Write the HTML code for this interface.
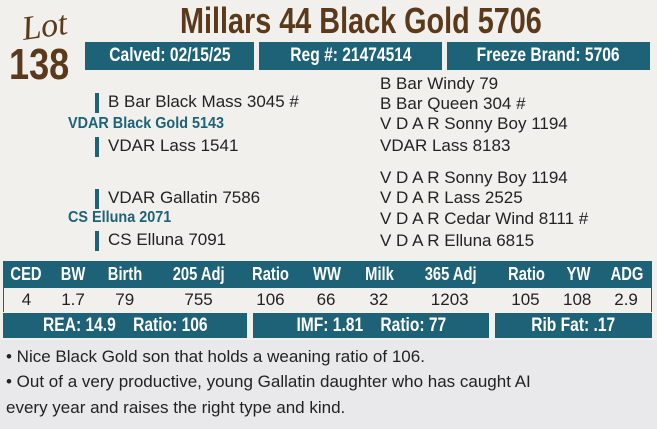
<!DOCTYPE html>
<html><head><style>
body{margin:0;width:657px;height:429px;background:#f1f0ec;position:relative;overflow:hidden;font-family:"Liberation Sans",sans-serif;}
.a{position:absolute;white-space:nowrap;}
.bar{position:absolute;background:#1e6278;color:#fff;font-weight:bold;font-size:19px;display:flex;align-items:center;justify-content:center;}
.c{display:inline-block;transform:scaleX(0.82);}
.t{font-size:17px;color:#222;line-height:20px;}
.vb{position:absolute;width:4px;background:#1e6278;height:20px;}
.b{font-weight:bold;color:#1e6278;font-size:16px;}
.row{position:absolute;left:3px;width:649px;display:flex;}
.row div{text-align:center;}
</style></head><body>
<div class="a" style="left:22px;top:8px;font-family:'Liberation Serif',serif;font-style:italic;font-size:34px;color:#5a3a1a;transform:rotate(-8deg);">Lot</div>
<div class="a" style="left:9px;top:40px;font-size:44px;font-weight:bold;color:#5a3a1a;"><span class="c" style="transform-origin:left">138</span></div>
<div class="a" style="left:180px;top:0px;font-size:36px;font-weight:bold;color:#5a3a1a;"><span class="c" style="transform-origin:left;transform:scaleX(0.8)">Millars 44 Black Gold 5706</span></div>
<div class="bar" style="left:85px;top:42px;width:169px;height:28px;"><span class="c">Calved: 02/15/25</span></div>
<div class="bar" style="left:259px;top:42px;width:183px;height:28px;"><span class="c">Reg #: 21474514</span></div>
<div class="bar" style="left:447px;top:42px;width:203px;height:28px;"><span class="c">Freeze Brand: 5706</span></div>

<div class="vb" style="left:95px;top:93px"></div>
<div class="a t" style="left:108px;top:92px">B Bar Black Mass 3045 #</div>
<div class="a b" style="left:68px;top:115px"><span class="c" style="transform-origin:left;transform:scaleX(0.9)">VDAR Black Gold 5143</span></div>
<div class="vb" style="left:95px;top:137px"></div>
<div class="a t" style="left:108px;top:136px">VDAR Lass 1541</div>
<div class="vb" style="left:95px;top:189px"></div>
<div class="a t" style="left:108px;top:188px">VDAR Gallatin 7586</div>
<div class="a b" style="left:68px;top:209px"><span class="c" style="transform-origin:left;transform:scaleX(0.9)">CS Elluna 2071</span></div>
<div class="vb" style="left:95px;top:231px"></div>
<div class="a t" style="left:108px;top:230px">CS Elluna 7091</div>

<div class="a t" style="left:380px;top:74px">B Bar Windy 79</div>
<div class="a t" style="left:380px;top:94px">B Bar Queen 304 #</div>
<div class="a t" style="left:380px;top:114px">V D A R Sonny Boy 1194</div>
<div class="a t" style="left:380px;top:136px">VDAR Lass 8183</div>
<div class="a t" style="left:380px;top:168px">V D A R Sonny Boy 1194</div>
<div class="a t" style="left:380px;top:188px">V D A R Lass 2525</div>
<div class="a t" style="left:380px;top:209px">V D A R Cedar Wind 8111 #</div>
<div class="a t" style="left:380px;top:231px">V D A R Elluna 6815</div>

<div class="row" style="top:261px;height:27px;background:#1e6278;color:#fff;font-weight:bold;font-size:18px;align-items:center;">
<div style="width:48px"><span class="c">CED</span></div><div style="width:50px"><span class="c">BW</span></div><div style="width:58px"><span class="c">Birth</span></div><div style="width:96px"><span class="c">205 Adj</span></div><div style="width:54px"><span class="c">Ratio</span></div><div style="width:62px"><span class="c">WW</span></div><div style="width:48px"><span class="c">Milk</span></div><div style="width:100px"><span class="c">365 Adj</span></div><div style="width:58px"><span class="c">Ratio</span></div><div style="width:50px"><span class="c">YW</span></div><div style="width:52px"><span class="c">ADG</span></div></div>
<div class="row" style="top:288px;height:24px;font-size:17px;color:#222;align-items:center;border-left:1px solid #1e6278;border-right:1px solid #1e6278;box-sizing:border-box;">
<div style="width:47px">4</div><div style="width:50px">1.7</div><div style="width:58px">79</div><div style="width:96px">755</div><div style="width:54px">106</div><div style="width:62px">66</div><div style="width:48px">32</div><div style="width:100px">1203</div><div style="width:58px">105</div><div style="width:50px">108</div><div style="width:52px">2.9</div></div>
<div class="bar" style="left:3px;top:313px;width:244px;height:25px;"><span class="c">REA: 14.9&nbsp;&nbsp;&nbsp;&nbsp;Ratio: 106</span></div>
<div class="bar" style="left:253px;top:313px;width:236px;height:25px;"><span class="c">IMF: 1.81&nbsp;&nbsp;&nbsp;&nbsp;Ratio: 77</span></div>
<div class="bar" style="left:495px;top:313px;width:157px;height:25px;"><span class="c">Rib Fat: .17</span></div>

<div class="a" style="left:0;top:340px;width:657px;height:89px;background:#e9e9eb;"></div>
<div class="a t" style="left:6px;top:347px;font-size:17px;">• Nice Black Gold son that holds a weaning ratio of 106.</div>
<div class="a t" style="left:6px;top:372px;font-size:17px;">• Out of a very productive, young Gallatin daughter who has caught AI</div>
<div class="a t" style="left:6px;top:398px;font-size:17px;">every year and raises the right type and kind.</div>
</body></html>
